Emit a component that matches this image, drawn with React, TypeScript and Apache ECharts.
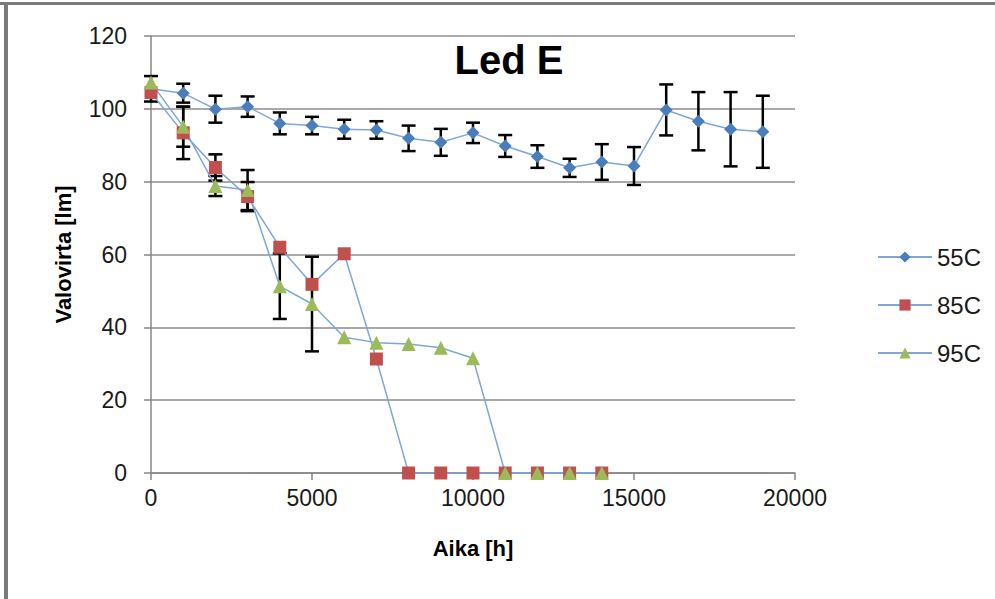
import React, { useEffect, useRef } from "react";
import * as echarts from "echarts";

const hours55 = [0, 1000, 2000, 3000, 4000, 5000, 6000, 7000, 8000, 9000, 10000, 11000, 12000, 13000, 14000, 15000, 16000, 17000, 18000, 19000];
const values55 = [105.5, 104.3, 99.9, 100.6, 96.0, 95.4, 94.4, 94.2, 91.9, 90.8, 93.4, 89.8, 86.9, 83.8, 85.4, 84.3, 99.7, 96.6, 94.4, 93.7];
const err55 = [3.5, 2.6, 3.7, 2.8, 3.0, 2.4, 2.6, 2.4, 3.5, 3.7, 2.8, 3.0, 3.1, 2.5, 4.9, 5.2, 7.0, 8.0, 10.2, 9.9];

const hours85 = [0, 1000, 2000, 3000, 4000, 5000, 6000, 7000, 8000, 9000, 10000, 11000, 12000, 13000, 14000];
const values85 = [104.5, 93.4, 83.9, 75.9, 62.0, 51.8, 60.2, 31.3, 0, 0, 0, 0, 0, 0, 0];
const err85 = [null, 7.2, 3.6, 4.0, null, null, null, null, null, null, null, null, null, null, null];

const hours95 = [0, 1000, 2000, 3000, 4000, 5000, 6000, 7000, 8000, 9000, 10000, 11000, 12000, 13000, 14000];
const values95 = [107.2, 95.1, 78.8, 77.7, 51.3, 46.4, 37.3, 35.8, 35.4, 34.4, 31.5, 0, 0, 0, 0];
const err95 = [null, 5.5, 2.75, 5.5, 9.0, 13.0, null, null, null, null, null, null, null, null, null];

const yTicks = [0, 20, 40, 60, 80, 100, 120];
const xTicks = [0, 5000, 10000, 15000, 20000];

const FONT = "'Liberation Sans', Arial, sans-serif";
const LINE_COLOR = "#7ea6da";

function pairs(xs: number[], ys: number[]) {
  return xs.map((x, i) => [x, ys[i]]);
}

function errData(xs: number[], ys: number[], es: (number | null)[]) {
  const out: number[][] = [];
  xs.forEach((x, i) => {
    const e = es[i];
    if (e != null) out.push([x, ys[i] - e, ys[i] + e]);
  });
  return out;
}

function errSeries(data: number[][]) {
  return {
    type: "custom",
    z: 1,
    silent: true,
    renderItem: (params: any, api: any) => {
      const x = api.value(0);
      const lo = api.coord([x, api.value(1)]);
      const hi = api.coord([x, api.value(2)]);
      const hw = 7;
      const style = { stroke: "#000", lineWidth: 2.5 };
      return {
        type: "group",
        children: [
          { type: "line", shape: { x1: lo[0], y1: lo[1], x2: hi[0], y2: hi[1] }, style },
          { type: "line", shape: { x1: lo[0] - hw, y1: lo[1], x2: lo[0] + hw, y2: lo[1] }, style },
          { type: "line", shape: { x1: hi[0] - hw, y1: hi[1], x2: hi[0] + hw, y2: hi[1] }, style },
        ],
      };
    },
    encode: { x: 0, y: [1, 2] },
    data,
  };
}

export default function App() {
  const ref = useRef<HTMLDivElement>(null);
  useEffect(() => {
    if (!ref.current) return;
    const chart = echarts.init(ref.current, undefined, { renderer: "svg" });
    const lineSeries = (name: string, data: number[][], symbol: string, size: number, color: string) => ({
      name,
      type: "line",
      z: 3,
      data,
      symbol,
      symbolSize: size,
      showSymbol: true,
      lineStyle: { color: LINE_COLOR, width: 1.5 },
      itemStyle: { color, borderWidth: 0 },
    });
    chart.setOption({
      animation: false,
      backgroundColor: "#fff",
      textStyle: { fontFamily: FONT },
      title: {
        text: "Led E",
        left: 504,
        top: 35,
        textAlign: "center",
        textStyle: { fontFamily: FONT, fontWeight: "bold", fontSize: 40, color: "#000" },
      },
      legend: {
        orient: "vertical",
        left: 872,
        top: 240,
        itemWidth: 54,
        itemHeight: 14,
        itemGap: 24,
        data: ["55C", "85C", "95C"],
        textStyle: { fontFamily: FONT, fontSize: 24, color: "#1a1a1a", padding: [0, 0, 0, 0] },
      },
      graphic: [
        { type: "rect", shape: { x: 0, y: 2, width: 995, height: 3 }, style: { fill: "#7a7a7a" } },
        { type: "rect", shape: { x: 4, y: 2, width: 4, height: 597 }, style: { fill: "#7a7a7a" } },
      ],
      grid: { left: 151, top: 36, width: 644, height: 437, containLabel: false },
      xAxis: {
        type: "value",
        min: xTicks[0],
        max: xTicks[xTicks.length - 1],
        interval: 5000,
        name: "Aika [h]",
        nameLocation: "middle",
        nameGap: 64,
        nameTextStyle: { fontFamily: FONT, fontWeight: "bold", fontSize: 22, color: "#000" },
        axisLine: { lineStyle: { color: "#868686", width: 1.5 } },
        axisTick: { show: true, length: 7, lineStyle: { color: "#868686", width: 1.5 } },
        axisLabel: { fontFamily: FONT, fontSize: 23, color: "#1a1a1a", margin: 13, formatter: (v: number) => String(v) },
        splitLine: { show: false },
      },
      yAxis: {
        type: "value",
        min: yTicks[0],
        max: yTicks[yTicks.length - 1],
        interval: 20,
        name: "Valovirta [lm]",
        nameLocation: "middle",
        nameGap: 77,
        nameTextStyle: { fontFamily: FONT, fontWeight: "bold", fontSize: 22, color: "#000" },
        axisLine: { show: true, lineStyle: { color: "#868686", width: 1.5 } },
        axisTick: { show: true, length: 7, lineStyle: { color: "#868686", width: 1.5 } },
        axisLabel: { fontFamily: FONT, fontSize: 23, color: "#1a1a1a", margin: 24, formatter: (v: number) => String(v) },
        splitLine: { show: true, lineStyle: { color: "#8c8c8c", width: 1.5 } },
      },
      series: [
        errSeries(errData(hours55, values55, err55)),
        errSeries(errData(hours85, values85, err85)),
        errSeries(errData(hours95, values95, err95)),
        lineSeries("55C", pairs(hours55, values55), "diamond", 13, "#4a7ebb"),
        lineSeries("85C", pairs(hours85, values85), "rect", 13, "#c0504d"),
        lineSeries("95C", pairs(hours95, values95), "triangle", 14, "#9bbb59"),
      ],
    });
    return () => chart.dispose();
  }, []);
  return <div ref={ref} style={{ position: "absolute", left: 0, top: 0, width: 995, height: 599 }} />;
}
